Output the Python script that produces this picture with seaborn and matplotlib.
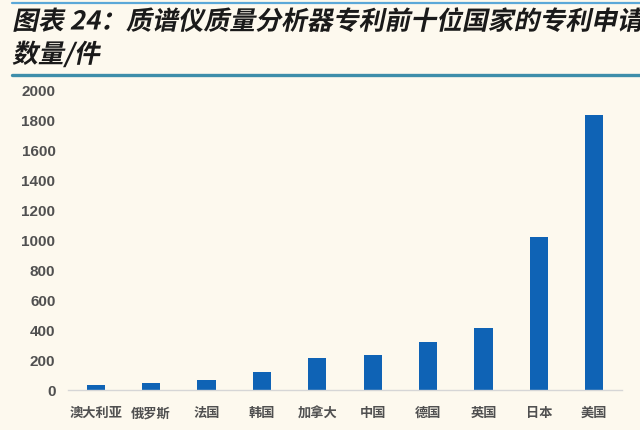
import numpy as np
import pandas as pd
import matplotlib
matplotlib.use("Agg")
import matplotlib.pyplot as plt
from matplotlib.lines import Line2D
from matplotlib.patheffects import AbstractPathEffect
from matplotlib.transforms import Affine2D
import seaborn as sns

countries = ["澳大利亚", "俄罗斯", "法国", "韩国", "加拿大", "中国", "德国", "英国", "日本", "美国"]
counts = [35, 45, 65, 120, 215, 235, 320, 415, 1020, 1835]
y_ticks = [0, 200, 400, 600, 800, 1000, 1200, 1400, 1600, 1800, 2000]
title_line1 = "图表 24：质谱仪质量分析器专利前十位国家的专利申请"
title_line2 = "数量/件"

BG = "#FDF9EE"
BAR = "#0F63B5"
GREY = "#505050"


class Skew(AbstractPathEffect):
    def __init__(self, deg=12):
        super().__init__()
        self.deg = deg

    def draw_path(self, renderer, gc, tpath, affine, rgbFace=None):
        renderer.draw_path(gc, tpath, Affine2D().skew_deg(self.deg, 0) + affine, rgbFace)


sns.set_theme(style="white")
plt.rcParams["font.family"] = ["Noto Sans CJK SC", "DejaVu Sans"]

W, H = 640, 431
fig = plt.figure(figsize=(W / 100, H / 100), dpi=100, facecolor=BG)

left, right, base, top = 68, 622, 391, 91
ax = fig.add_axes([left / W, 1 - base / H, (right - left) / W, (base - top) / H])
ax.set_facecolor(BG)

df = pd.DataFrame({"country": countries, "count": counts})
sns.barplot(data=df, x="country", y="count", color=BAR, width=0.33,
            saturation=1, ax=ax, edgecolor="none")

ax.set_ylim(0, 2000)
ax.set_xlim(-0.5, len(countries) - 0.5)
ax.set_yticks(y_ticks)
ax.set_yticklabels([str(v) for v in y_ticks], fontfamily="Liberation Sans",
                   fontweight="bold", fontsize=11, color=GREY)
ax.set_xticks(range(len(countries)))
ax.set_xticklabels(countries, fontweight="bold", fontsize=9.5, color=GREY)
ax.set_xticks(np.arange(-0.5, len(countries), 1), minor=True)
ax.tick_params(axis="x", which="major", length=0, pad=11)
ax.tick_params(axis="x", which="minor", length=4, width=0.8, color="#D0D0D0", direction="out")
ax.tick_params(axis="y", length=0, pad=9)
ax.set_xlabel("")
ax.set_ylabel("")
for s in ["top", "right", "left"]:
    ax.spines[s].set_visible(False)
ax.spines["bottom"].set_color("#D6D6D6")
ax.spines["bottom"].set_linewidth(1.0)
ax.grid(False)

# title block
fig.add_artist(Line2D([12 / W, 1], [1 - 4 / H, 1 - 4 / H], color="#5BA8D8", lw=1.6))
fig.add_artist(Line2D([12 / W, 1], [1 - 76 / H, 1 - 76 / H], color="#3E8EAA", lw=2.4))
fx = Skew(12)
fig.text(12 / W, 1 - 23 / H, title_line1, fontsize=18.6, fontweight="bold",
         color="#1A1A1A", va="center", ha="left", path_effects=[fx])
fig.text(12 / W, 1 - 56 / H, title_line2, fontsize=18.6, fontweight="bold",
         color="#1A1A1A", va="center", ha="left", path_effects=[fx])

fig.savefig("out.png", dpi=100, facecolor=BG)
